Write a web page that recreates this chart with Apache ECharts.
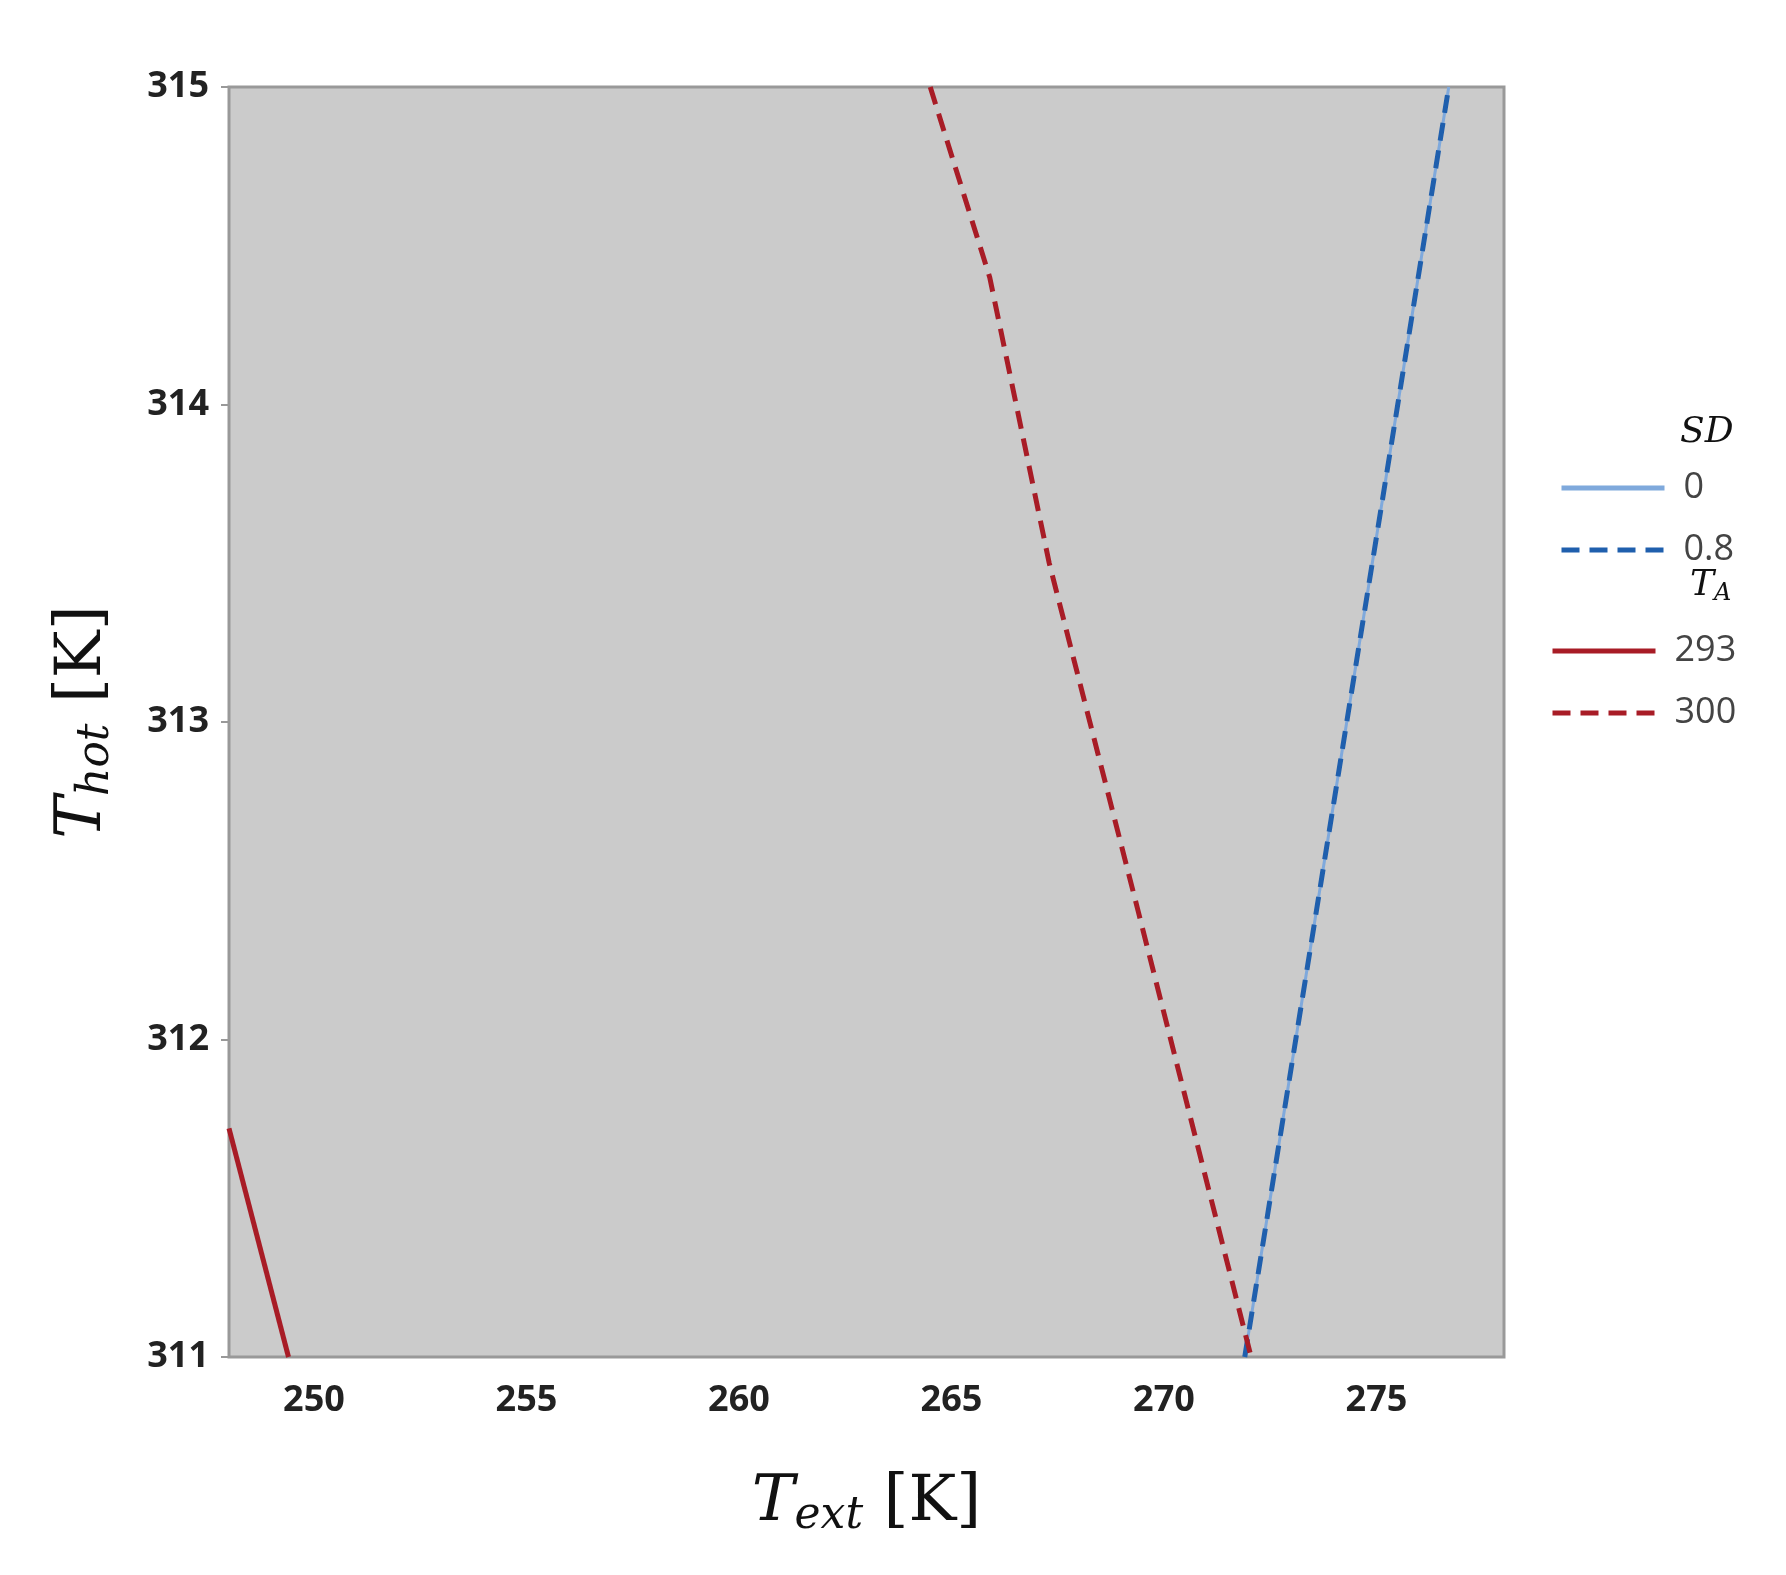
<!DOCTYPE html>
<html>
<head>
<meta charset="utf-8">
<script src="https://cdn.jsdelivr.net/npm/echarts@6/dist/echarts.min.js"></script>
<style>html,body{margin:0;background:#fff}#chart{width:1786px;height:1575px}</style>
</head>
<body>
<div id="chart"></div>
<script>
// SD curves (blue) – both lie on the same path
var sd0 = [[271.9, 311], [273.1, 312], [274.3, 313], [275.5, 314], [276.7, 315]];
var sd08 = [[271.9, 311], [273.1, 312], [274.3, 313], [275.5, 314], [276.7, 315]];
// T_A curves (red)
var ta293 = [[248.0, 311.72], [249.4, 311]];
var ta300 = [[264.5, 315], [265.9, 314.4], [267.3, 313.5], [269.4, 312.4], [272.05, 311]];
var xTicks = [250, 255, 260, 265, 270, 275];
var yTicks = [311, 312, 313, 314, 315];

var chart = echarts.init(document.getElementById('chart'));
var blue = '#1f5fad', red = '#a81c26';
var tickFont = {fontSize: 36, fontWeight: 'bold', color: '#222', fontFamily: 'Open Sans'};
var legText = {fontSize: 36, color: '#444', fontFamily: 'Open Sans', padding: [0, 0, 0, 14]};
function line(name, data, color, type, width) {
    return {
        name: name, type: 'line', data: data, symbol: 'none',
        lineStyle: {color: color, width: width, type: type},
        itemStyle: {color: color}
    };
}
var nameRich = {
    t: {fontSize: 64, fontStyle: 'italic', fontFamily: 'DejaVu Serif', color: '#111'},
    s: {fontSize: 44, fontStyle: 'italic', fontFamily: 'DejaVu Serif', color: '#111', verticalAlign: 'bottom', padding: [28, 0, 0, 0]},
    k: {fontSize: 64, fontFamily: 'DejaVu Serif', color: '#111'}
};
chart.setOption({
    animation: false,
    grid: {left: 229, top: 87, right: 282, bottom: 218, show: true,
        backgroundColor: '#cbcbcb', borderColor: '#999', borderWidth: 3},
    xAxis: {
        type: 'value', min: 248, max: 278, interval: 1,
        axisLabel: {formatter: function (v) { return xTicks.indexOf(v) >= 0 ? v : ''; },
            margin: 26, ...tickFont, showMinLabel: false, showMaxLabel: false},
        axisTick: {show: false},
        axisLine: {show: false}, splitLine: {show: false},
        name: '{t|T}{s|ext}{k| [K]}', nameLocation: 'middle', nameGap: 110,
        nameTextStyle: {rich: nameRich}
    },
    yAxis: {
        type: 'value', min: 311, max: 315, interval: 1,
        axisLabel: {margin: 20, ...tickFont},
        axisTick: {show: true, length: 8, lineStyle: {color: '#999', width: 2}},
        axisLine: {show: false}, splitLine: {show: false},
        name: '{t|T}{s|hot}{k| [K]}', nameLocation: 'middle', nameGap: 110,
        nameTextStyle: {rich: nameRich}
    },
    legend: [
        {data: ['0', '0.8'], orient: 'vertical', left: 1554, top: 465, itemWidth: 103,
            itemHeight: 26, itemGap: 26, textStyle: legText,
            itemStyle: {opacity: 0}, lineStyle: {width: 5}},
        {data: ['293', '300'], orient: 'vertical', left: 1545, top: 628, itemWidth: 103,
            itemHeight: 26, itemGap: 26, textStyle: legText,
            itemStyle: {opacity: 0}, lineStyle: {width: 5}}
    ],
    graphic: [
        {type: 'text', left: 1680, top: 415, style: {text: 'SD', fontSize: 36, fontStyle: 'italic', fontFamily: 'DejaVu Serif', fill: '#111'}},
        {type: 'text', left: 1690, top: 568, style: {text: '{t|T}{s|A}', rich: {
            t: {fontSize: 36, fontStyle: 'italic', fontFamily: 'DejaVu Serif', fill: '#111'},
            s: {fontSize: 24, fontStyle: 'italic', fontFamily: 'DejaVu Serif', fill: '#111', verticalAlign: 'bottom', padding: [16, 0, 0, 0]}}}}
    ],
    series: [
        line('0', sd0, '#7fa9dc', 'solid', 3),
        line('0.8', sd08, blue, [18, 10], 5),
        line('293', ta293, red, 'solid', 5),
        line('300', ta300, red, [18, 10], 5)
    ]
});
window.addEventListener('resize', function () { chart.resize(); });
</script>
</body>
</html>
